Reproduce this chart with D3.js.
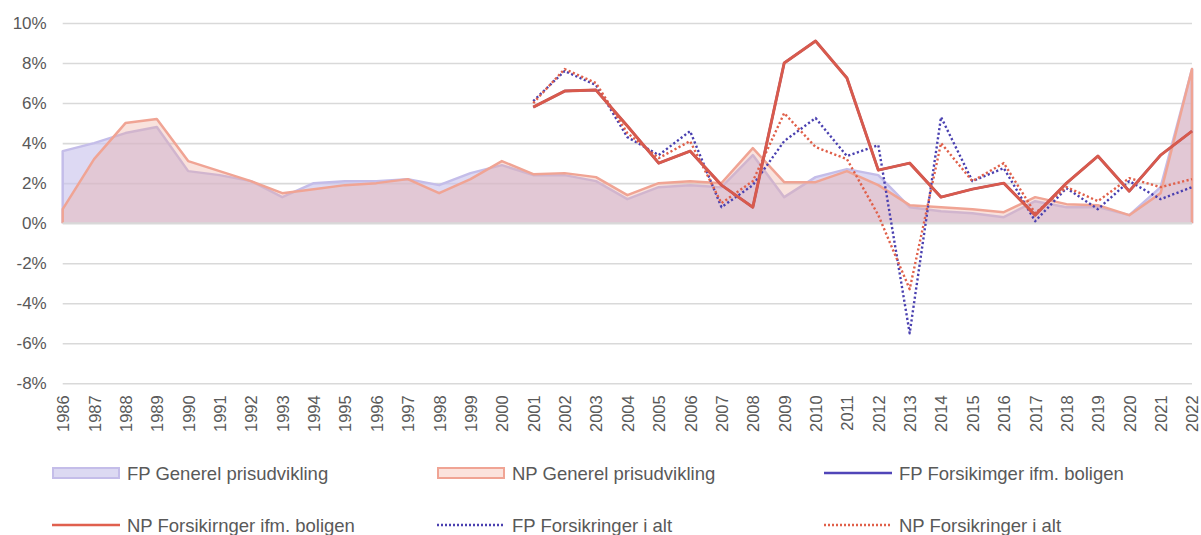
<!DOCTYPE html>
<html>
<head>
<meta charset="utf-8">
<script src="https://cdn.jsdelivr.net/npm/d3@7"></script>
<style>
  body { margin: 0; background: #fff; }
  svg { display: block; font-family: "Liberation Sans", Arial, sans-serif; }
</style>
</head>
<body>
<div id="chart"></div>
<script>
// years on the x axis
var years = d3.range(1986, 2023);

// FP / NP general price development (area series), in %
var fpGenerel = [3.6, 4.0, 4.5, 4.8, 2.6, 2.4, 2.1, 1.3, 2.0, 2.1, 2.1, 2.2, 1.9, 2.5, 2.9,
  2.4, 2.4, 2.1, 1.2, 1.8, 1.9, 1.8, 3.4, 1.3, 2.3, 2.7, 2.4, 0.8, 0.6, 0.5, 0.3, 1.1, 0.8, 0.8, 0.4, 1.8, 7.7];
var npGenerel = [0.7, 3.2, 5.0, 5.2, 3.1, 2.6, 2.1, 1.5, 1.7, 1.9, 2.0, 2.2, 1.5, 2.2, 3.1,
  2.45, 2.5, 2.3, 1.4, 2.0, 2.1, 2.0, 3.75, 2.05, 2.05, 2.6, 1.9, 0.9, 0.8, 0.7, 0.55, 1.3, 0.95, 0.9, 0.4, 1.5, 7.7];

// insurance series, only from 2001
var insYears = d3.range(2001, 2023);
var fpBoligen = [5.8, 6.6, 6.65, 4.85, 3.0, 3.6, 1.9, 0.8, 8.0, 9.1, 7.25, 2.65, 3.0, 1.3, 1.7, 2.0, 0.4, 2.0, 3.35, 1.6, 3.4, 4.6];
var npBoligen = [5.8, 6.6, 6.65, 4.85, 3.0, 3.6, 1.9, 0.8, 8.0, 9.1, 7.25, 2.65, 3.0, 1.3, 1.7, 2.0, 0.4, 2.0, 3.35, 1.6, 3.4, 4.6];
var fpIAlt = [6.1, 7.6, 6.9, 4.3, 3.4, 4.6, 0.8, 1.9, 4.1, 5.25, 3.35, 3.9, -5.5, 5.3, 2.1, 2.75, 0.1, 1.75, 0.7, 2.1, 1.2, 1.8];
var npIAlt = [6.0, 7.7, 7.0, 4.5, 3.25, 4.1, 1.0, 2.1, 5.5, 3.8, 3.2, 0.4, -3.3, 4.0, 2.1, 3.0, 0.5, 1.8, 1.1, 2.25, 1.8, 2.2];

var yTicks = [-8, -6, -4, -2, 0, 2, 4, 6, 8, 10];

var width = 1201, height = 535;

var svg = d3.select('#chart').append('svg')
  .attr('width', width)
  .attr('height', height);

var x = d3.scaleLinear().domain([1986, 2022]).range([62.7, 1192]);
var y = d3.scaleLinear().domain([-8, 10]).range([383.3, 23]);

// gridlines
svg.append('g')
  .attr('transform', 'translate(62.7,0)')
  .call(d3.axisLeft(y).tickValues(yTicks).tickSize(-(1192 - 62.7)).tickFormat(''))
  .call(function(g) { g.select('.domain').remove(); })
  .selectAll('line')
  .attr('stroke', '#d9d9d9')
  .attr('stroke-width', 1.6);

// y labels
svg.append('g')
  .attr('transform', 'translate(62.7,0)')
  .call(d3.axisLeft(y).tickValues(yTicks).tickSize(0).tickPadding(16).tickFormat(function(d) { return d + '%'; }))
  .call(function(g) { g.select('.domain').remove(); })
  .selectAll('text')
  .attr('fill', '#595959')
  .style('font-size', '17px')
  .style('font-family', '"Liberation Sans", Arial, sans-serif');

// x labels (rotated)
var xAxis = svg.append('g')
  .attr('transform', 'translate(0,' + y(-8) + ')')
  .call(d3.axisBottom(x).tickValues(years).tickSize(0).tickFormat(d3.format('d')));
xAxis.select('.domain').remove();
xAxis.selectAll('text')
  .attr('fill', '#595959')
  .style('font-size', '16.5px')
  .style('font-family', '"Liberation Sans", Arial, sans-serif')
  .attr('text-anchor', 'end')
  .attr('transform', 'rotate(-90)')
  .attr('x', -12)
  .attr('y', 0)
  .attr('dy', '0.36em');

// areas: fill closed, border open (top edge plus the two ends)
var area = d3.area()
  .x(function(d) { return x(d[0]); })
  .y0(y(0))
  .y1(function(d) { return y(d[1]); });

var border = d3.line()
  .x(function(d) { return x(d[0]); })
  .y(function(d) { return y(d[1]); });

function withEnds(yrs, vals) {
  var pts = d3.zip(yrs, vals);
  return [[yrs[0], 0]].concat(pts, [[yrs[yrs.length - 1], 0]]);
}

var areaSeries = [
  {values: fpGenerel, fill: 'rgb(200,194,236)', opacity: 0.62, stroke: '#c4bde9'},
  {values: npGenerel, fill: 'rgb(238,168,152)', opacity: 0.33, stroke: '#f0a494'}
];

areaSeries.forEach(function(s) {
  svg.append('path')
    .datum(d3.zip(years, s.values))
    .attr('d', area)
    .attr('fill', s.fill)
    .attr('fill-opacity', s.opacity);
  svg.append('path')
    .datum(withEnds(years, s.values))
    .attr('d', border)
    .attr('fill', 'none')
    .attr('stroke', s.stroke)
    .attr('stroke-width', 2.5)
    .attr('stroke-linejoin', 'round');
});

// zero line shows over the area bottoms
svg.append('line')
  .attr('x1', x(1986)).attr('x2', x(2022))
  .attr('y1', y(0)).attr('y2', y(0))
  .attr('stroke', '#d9d9d9')
  .attr('stroke-width', 1.6);

// lines
var line = d3.line()
  .x(function(d) { return x(d[0]); })
  .y(function(d) { return y(d[1]); });

var lineSeries = [
  {name: 'FP Forsikimger ifm. boligen', values: fpBoligen, color: '#5045b8', dash: null},
  {name: 'NP Forsikirnger ifm. boligen', values: npBoligen, color: '#d85a4c', dash: null},
  {name: 'FP Forsikringer i alt', values: fpIAlt, color: '#4a40b0', dash: '2.2 2.4'},
  {name: 'NP Forsikringer i alt', values: npIAlt, color: '#e0604a', dash: '2.2 2.4'}
];

// dotted first, solid lines on top
[2, 3, 0, 1].forEach(function(i) {
  var s = lineSeries[i];
  svg.append('path')
    .datum(d3.zip(insYears, s.values))
    .attr('d', line)
    .attr('fill', 'none')
    .attr('stroke', s.color)
    .attr('stroke-width', s.dash ? 2.4 : (i == 1 ? 3 : 2.4))
    .attr('stroke-dasharray', s.dash)
    .attr('stroke-linejoin', 'round');
});

// legend
var legendItems = [
  {name: 'FP Generel prisudvikling', type: 'area', fill: '#dcd9f2', stroke: '#c4bde9'},
  {name: 'NP Generel prisudvikling', type: 'area', fill: '#fbe3dd', stroke: '#f0a494'},
  {name: 'FP Forsikimger ifm. boligen', type: 'line', stroke: '#5045b8', dash: null},
  {name: 'NP Forsikirnger ifm. boligen', type: 'line', stroke: '#e0604e', dash: null},
  {name: 'FP Forsikringer i alt', type: 'line', stroke: '#4a40b0', dash: '2 2'},
  {name: 'NP Forsikringer i alt', type: 'line', stroke: '#e0604a', dash: '2 2'}
];
var colX = [52, 437, 824], rowY = [473, 525];

var leg = svg.selectAll('.leg').data(legendItems).enter().append('g')
  .attr('transform', function(d, i) { return 'translate(' + colX[i % 3] + ',' + rowY[Math.floor(i / 3)] + ')'; });

leg.filter(function(d) { return d.type == 'area'; }).append('rect')
  .attr('x', 1).attr('y', -5).attr('width', 66).attr('height', 10)
  .attr('fill', function(d) { return d.fill; })
  .attr('stroke', function(d) { return d.stroke; })
  .attr('stroke-width', 2);

leg.filter(function(d) { return d.type == 'line'; }).append('line')
  .attr('x1', 0).attr('x2', 68).attr('y1', 0).attr('y2', 0)
  .attr('stroke', function(d) { return d.stroke; })
  .attr('stroke-width', 2.5)
  .attr('stroke-dasharray', function(d) { return d.dash; });

leg.append('text')
  .attr('x', 75)
  .attr('dy', '0.36em')
  .attr('fill', '#595959')
  .style('font-size', '18.5px')
  .text(function(d) { return d.name; });
</script>
</body>
</html>
